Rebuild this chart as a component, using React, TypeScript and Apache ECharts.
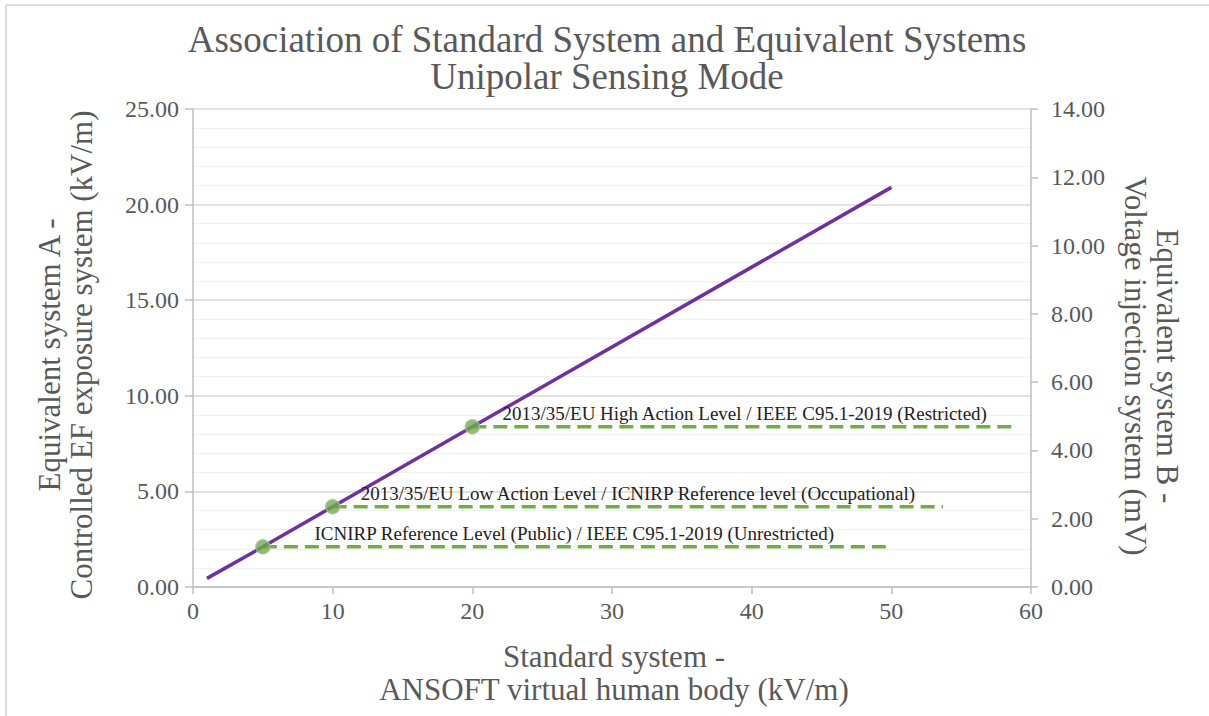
import React, { useEffect, useRef } from "react";
import * as echarts from "echarts";

const titleLines = ["Association of Standard System and Equivalent Systems", "Unipolar Sensing Mode"];
const xAxisNameLines = ["Standard system -", "ANSOFT virtual human body (kV/m)"];
const leftAxisNameLines = ["Equivalent system A -", "Controlled EF exposure system (kV/m)"];
const rightAxisNameLines = ["Equivalent system B -", "Voltage injection system (mV)"];

// Association line: standard system (x) vs equivalent system A (y)
const lineX = [1, 5, 10, 20, 50];
const lineY = [0.45, 2.1, 4.2, 8.38, 20.9];

// Exposure limits
const limitLabels = [
  "ICNIRP Reference Level (Public) / IEEE C95.1-2019 (Unrestricted)",
  "2013/35/EU Low Action Level / ICNIRP Reference level (Occupational)",
  "2013/35/EU High Action Level / IEEE C95.1-2019 (Restricted)",
];
const limitStartX = [5, 10, 20];
const limitY = [2.1, 4.2, 8.38];
const limitEndX = [49.6, 53.7, 59.0];

const FONT = "'Liberation Serif', 'Times New Roman', serif";
const GREY = "#595959";
const GREEN = "#70AD47";

export default function App() {
  const ref = useRef<HTMLDivElement>(null);
  useEffect(() => {
    if (!ref.current) return;
    const chart = echarts.init(ref.current, undefined, { renderer: "svg" });
    const fmt = (v: number) => v.toFixed(2);
    const option: any = {
      animation: false,
      backgroundColor: "#ffffff",
      grid: { left: 193, right: 178, top: 109, bottom: 129, containLabel: false },
      xAxis: {
        type: "value",
        min: 0,
        max: 60,
        interval: 10,
        axisLine: { show: true, lineStyle: { color: "#bfbfbf", width: 1.5 } },
        axisTick: { show: true, length: 7, lineStyle: { color: "#bfbfbf", width: 1.5 } },
        axisLabel: { color: GREY, fontFamily: FONT, fontSize: 24, margin: 12 },
        splitLine: { show: false },
      },
      yAxis: [
        {
          type: "value",
          min: 0,
          max: 25,
          interval: 5,
          position: "left",
          axisLine: { show: true, lineStyle: { color: "#bfbfbf", width: 1.5 } },
          axisTick: { show: true, length: 8, lineStyle: { color: "#bfbfbf", width: 1.5 } },
          axisLabel: { color: GREY, fontFamily: FONT, fontSize: 24, margin: 14, formatter: fmt },
          splitLine: { show: true, lineStyle: { color: "#d9d9d9", width: 1.5 } },
          minorTick: { show: false, splitNumber: 5 },
          minorSplitLine: { show: true, lineStyle: { color: "#f0f0f0", width: 1.2 } },
        },
        {
          type: "value",
          min: 0,
          max: 14,
          interval: 2,
          position: "right",
          axisLine: { show: true, lineStyle: { color: "#bfbfbf", width: 1.5 } },
          axisTick: { show: true, length: 7, lineStyle: { color: "#bfbfbf", width: 1.5 } },
          axisLabel: { color: GREY, fontFamily: FONT, fontSize: 24, margin: 20, formatter: fmt },
          splitLine: { show: false },
        },
      ],
      graphic: [
        { type: "line", shape: { x1: 6, y1: 5, x2: 1209, y2: 5 }, style: { stroke: "#dcdcdc", lineWidth: 2 } },
        { type: "line", shape: { x1: 6, y1: 5, x2: 6, y2: 716 }, style: { stroke: "#dcdcdc", lineWidth: 2 } },
        {
          type: "text",
          x: 607,
          y: 58,
          style: {
            text: titleLines.join("\n"),
            font: `37px ${FONT}`,
            fill: GREY,
            align: "center",
            verticalAlign: "middle",
            lineHeight: 37,
          },
        },
        {
          type: "text",
          x: 614,
          y: 673,
          style: {
            text: xAxisNameLines.join("\n"),
            font: `31px ${FONT}`,
            fill: GREY,
            align: "center",
            verticalAlign: "middle",
            lineHeight: 33,
          },
        },
        {
          type: "text",
          x: 65,
          y: 355,
          rotation: Math.PI / 2,
          style: {
            text: leftAxisNameLines.join("\n"),
            font: `31px ${FONT}`,
            fill: GREY,
            align: "center",
            verticalAlign: "middle",
            lineHeight: 32,
          },
        },
        {
          type: "text",
          x: 1151,
          y: 366,
          rotation: -Math.PI / 2,
          style: {
            text: rightAxisNameLines.join("\n"),
            font: `31px ${FONT}`,
            fill: GREY,
            align: "center",
            verticalAlign: "middle",
            lineHeight: 32,
          },
        },
      ],
      series: [
        ...limitLabels.map((label, i) => ({
          type: "line",
          name: label,
          data: [
            [limitStartX[i], limitY[i]],
            [limitEndX[i], limitY[i]],
          ],
          showSymbol: false,
          symbol: "none",
          lineStyle: { color: GREEN, width: 3.5, type: [14, 7] },
          z: 2,
          markLine: {
            silent: true,
            symbol: "none",
            lineStyle: { color: "rgba(0,0,0,0)", width: 0 },
            label: {
              show: true,
              position: "insideMiddleTop",
              distance: 4,
              formatter: label,
              color: "#222222",
              fontFamily: FONT,
              fontSize: 19,
            },
            data: [
              [
                { coord: [limitStartX[i], limitY[i]] },
                { coord: [limitEndX[i], limitY[i]] },
              ],
            ],
          },
        })),
        {
          type: "line",
          name: "association",
          data: lineX.map((x, i) => [x, lineY[i]]),
          showSymbol: false,
          symbol: "none",
          lineStyle: { color: "#7030A0", width: 3.5 },
          z: 3,
        },
        {
          type: "scatter",
          name: "limits",
          data: limitStartX.map((x, i) => [x, limitY[i]]),
          symbol: "circle",
          symbolSize: 14,
          itemStyle: { color: GREEN, borderColor: "#a9b8a0", borderWidth: 1.5 },
          z: 4,
        },
      ],
    };
    chart.setOption(option);
    return () => chart.dispose();
  }, []);
  return (
    <div
      ref={ref}
      style={{ position: "fixed", left: 0, top: 0, width: 1209, height: 716, background: "#fff" }}
    />
  );
}
